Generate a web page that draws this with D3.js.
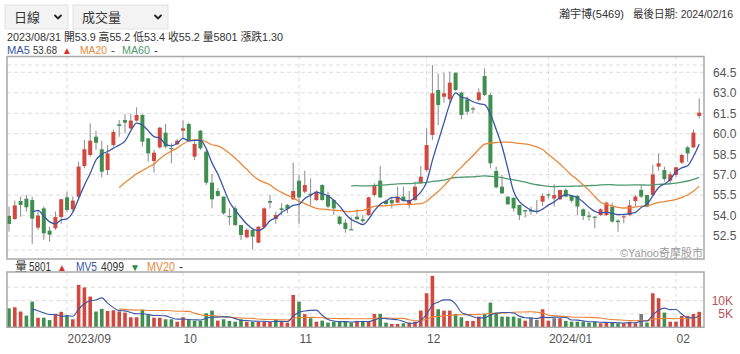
<!DOCTYPE html>
<html><head><meta charset="utf-8">
<script src="https://cdn.jsdelivr.net/npm/d3@7"></script>
<style>
body{margin:0;background:#fff;}
svg{display:block;font-family:"Liberation Sans","Noto Sans CJK TC",Arial,sans-serif;}
</style></head><body><svg id="c" width="740" height="354"></svg>
<script>
// ---------- data ----------
const opens = [53.97,53.75,55.07,55.24,55.14,53.12,54.53,52.90,53.07,53.90,
55.34,54.46,55.39,57.63,58.44,59.78,58.86,57.34,59.17,60.69,
61.00,60.39,60.96,61.37,59.66,58.00,59.00,60.08,58.95,59.22,
60.22,60.71,58.32,60.22,58.69,56.41,55.80,55.39,53.97,54.53,
53.31,52.41,52.95,52.02,53.14,55.07,53.75,54.53,54.78,55.19,
56.56,55.75,55.60,55.14,56.24,55.51,55.14,53.92,53.48,53.00,
53.92,53.73,54.04,55.51,56.56,55.07,55.14,54.95,55.39,54.78,
55.14,56.37,57.34,59.91,63.20,62.71,62.52,64.47,63.01,62.52,
61.86,62.47,64.23,62.84,57.27,56.12,55.39,55.31,54.78,54.40,
54.41,54.36,55.02,55.56,55.25,55.19,55.88,55.44,55.44,54.46,
54.00,53.92,54.04,54.04,54.66,53.63,53.90,54.04,55.07,55.88,
55.51,55.51,57.59,57.34,56.56,56.98,57.88,59.00,59.00,61.30];
const highs = [54.66,55.10,55.39,55.51,55.39,54.41,54.66,53.19,54.29,55.20,
55.75,55.39,57.95,59.54,60.76,60.22,59.49,59.17,60.32,61.00,
61.44,61.49,61.93,61.45,59.70,58.81,60.50,60.71,59.30,59.60,
60.96,60.81,59.54,60.27,58.81,57.05,56.00,55.39,54.53,54.70,
53.31,53.07,53.07,53.19,54.61,55.51,54.29,54.90,54.85,57.88,
57.02,57.29,56.73,55.85,56.30,55.75,55.19,53.97,53.73,53.92,
54.46,54.04,55.39,56.37,57.63,55.19,55.39,56.12,56.12,55.80,
56.49,57.63,60.39,65.03,64.42,64.47,64.55,64.47,63.08,62.71,
61.98,63.32,64.79,62.96,57.59,56.98,55.39,55.31,54.78,54.45,
54.65,55.14,55.63,55.63,56.32,55.88,56.00,55.51,55.51,54.53,
54.29,53.97,54.53,55.02,54.95,53.73,54.04,55.14,55.51,56.24,
55.51,57.71,58.56,57.59,57.22,57.59,58.51,59.10,60.32,62.59];
const lows = [52.82,53.68,53.92,54.29,51.92,52.95,52.21,52.09,52.95,53.40,
54.29,54.29,55.27,57.46,58.32,58.81,56.80,56.98,59.05,59.78,
60.03,60.32,60.88,59.05,57.95,57.15,58.90,58.93,57.83,59.17,
59.59,59.49,58.07,58.81,56.24,54.53,55.39,54.05,53.31,53.24,
52.21,52.34,51.53,51.97,53.07,54.53,53.39,54.05,54.17,55.14,
53.39,55.63,54.78,55.07,55.10,54.53,54.04,53.31,52.75,52.95,
53.68,53.44,53.97,55.39,55.27,54.78,54.53,54.90,55.02,54.53,
55.07,56.32,57.22,59.54,60.64,62.27,62.22,63.15,61.05,61.37,
61.49,62.35,62.76,57.46,56.00,55.58,54.78,54.29,53.68,53.87,
54.05,54.12,54.70,55.27,54.66,55.14,55.34,54.95,54.04,53.68,
53.63,53.07,53.97,53.97,53.48,52.82,53.44,53.97,54.70,55.27,
54.61,55.44,57.29,56.49,56.37,56.85,57.78,57.95,58.93,61.13];
const closes = [53.39,54.75,54.78,54.61,53.78,54.00,52.70,52.60,53.90,55.20,
54.41,55.10,57.59,58.86,59.49,59.34,57.22,58.56,60.13,60.57,
60.81,60.96,61.37,59.42,58.56,58.61,60.44,59.05,58.90,59.49,
60.39,59.54,59.25,58.93,56.41,55.19,55.44,54.17,53.88,53.31,
52.58,52.95,52.46,53.19,54.53,54.95,54.05,54.41,54.50,55.80,
55.34,56.24,55.50,55.75,55.14,54.66,54.53,53.39,53.02,52.97,
53.73,53.60,55.34,56.17,55.34,54.85,54.90,55.39,55.07,55.14,
56.12,56.85,59.17,62.96,62.10,62.96,63.74,63.20,61.37,61.61,
61.79,63.03,62.84,57.83,56.07,55.63,54.83,54.53,54.04,54.30,
54.30,54.30,55.44,55.50,55.50,55.88,55.39,55.09,54.66,53.97,
53.95,53.87,54.46,54.95,53.56,53.52,53.95,54.75,55.39,55.39,
54.66,57.02,57.83,56.68,57.02,57.54,58.44,58.56,60.08,61.54];
const volumes = [7100,7500,5900,4400,9600,3600,3600,2700,4794,5801,
4500,3000,15900,14900,11500,5900,6900,6100,6400,5900,
5500,3750,3750,6500,4600,3600,3600,3000,3000,2100,
3750,2750,2500,2500,5250,6250,2500,3000,2400,2100,
3000,2100,2100,2100,2100,2100,2750,2100,1750,12100,
9600,4900,3400,2100,2500,1750,2100,2100,2100,1750,
2400,2400,2100,5000,5000,1750,1250,1250,1500,1750,
2100,6250,12750,19250,6750,6250,6250,5000,3750,2400,
2400,4000,5000,9250,5500,4000,4000,4000,3400,2500,
3600,2750,6750,2500,3400,3400,2400,2100,2100,2100,
1750,2100,1500,1750,1750,1500,1500,2100,1500,5000,
1750,12750,10900,5500,2100,2100,4250,4250,5000,5800];
const monthLabels = ["2023/09","10","11","12","2024/01","02"];
const monthIndex = [10,30,50,72,93,115];
const priceTicks = [52.5,54,55.5,57,58.5,60,61.5,63,64.5];
const volTicks = [5000,10000];
const volTickLabels = ["5K","10K"];
const shownIndex = 9, shownDate = "2023/08/31";
const stockName = "瀚宇博(5469)", lastDate = "2024/02/16";

// ---------- helpers ----------
const N = closes.length;
function ma(arr, n){ return arr.map((v,i)=> i<n-1 ? null : d3.mean(arr.slice(i-n+1,i+1))); }
const ma5 = ma(closes,5), ma20 = ma(closes,20), ma60 = ma(closes,60);
const mv5 = ma(volumes,5), mv20 = ma(volumes,20);

const RED="#d2483f", GREEN="#3f8f50", GRAY="#7a7a7a";
const C_MA5="#3a56a5", C_MA20="#e8873a", C_MA60="#4f9a6e";

const svg = d3.select("#c");
const L=7, R=704, T1=56.5, B1=259, T2=272, B2=327.3;
const x = d3.scaleLinear().domain([0,N-1]).range([9,699.2]);
const y = d3.scaleLinear().domain([50.82,65.62]).range([B1,57]);
const yv = d3.scaleLinear().domain([0,20700]).range([B2,T2]);

// ---------- header ----------
function dropdown(x0,w,label){
  const g = svg.append("g");
  g.append("rect").attr("x",x0).attr("y",5).attr("width",w).attr("height",24)
    .attr("fill","#f3f3f3").attr("stroke","#e2e2e2");
  g.append("text").attr("x",x0+9).attr("y",22).attr("font-size",13).attr("fill","#333").text(label);
  const cx = x0+w-10;
  g.append("path").attr("d",`M${cx-3.5},${15} L${cx},${18.5} L${cx+3.5},${15}`)
    .attr("fill","none").attr("stroke","#222").attr("stroke-width",1.8);
}
dropdown(5,63,"日線");
dropdown(73,95,"成交量");

const f1 = d3.format(".1f"), f2 = d3.format(".2f");
const i0 = shownIndex;
function lt(xx,yy,txt,color,fs,w){
  const t = svg.append("text").attr("x",xx).attr("y",yy).attr("fill",color).attr("font-size",fs).text(txt);
  if(w) t.attr("textLength",w).attr("lengthAdjust","spacingAndGlyphs");
  return t;
}
lt(7,41,`${shownDate} 開${f1(opens[i0])} 高${f1(highs[i0])} 低${f1(lows[i0])} 收${f1(closes[i0])} 量${volumes[i0]} 漲跌${f2(closes[i0]-closes[i0-1])}`,"#333",11.5,276);

lt(7,54,"MA5",C_MA5,11.5,23); lt(33,54,f2(ma5[i0]),"#333",11.5,24); lt(62,53.5,"▲","#d9302a",10);
lt(80,54,"MA20",C_MA20,11.5,27); lt(111,54,"-","#333",11.5);
lt(122,54,"MA60",C_MA60,11.5,28); lt(154,54,"-","#333",11.5);

lt(559,18,stockName,"#333",11.5,65);
lt(633,18,`最後日期: ${lastDate}`,"#333",11,100);

// ---------- grids ----------
const grid = svg.append("g").attr("stroke","#dcdcdc").attr("stroke-dasharray","4,3").attr("stroke-width",1);
[...priceTicks.map(v=>y(v)), T1+8.5, B1-9].forEach(yy=>{
  grid.append("line").attr("x1",L).attr("x2",R).attr("y1",yy).attr("y2",yy);
});
volTicks.concat([15000]).forEach(v=>{
  grid.append("line").attr("x1",L).attr("x2",R).attr("y1",yv(v)).attr("y2",yv(v));
});
monthIndex.forEach(i=>{
  grid.append("line").attr("x1",x(i)).attr("x2",x(i)).attr("y1",T1).attr("y2",B1);
  grid.append("line").attr("x1",x(i)).attr("x2",x(i)).attr("y1",T2).attr("y2",B2);
});

// ---------- candles ----------
const idx = d3.range(N);
const cg = svg.append("g");
cg.selectAll("line").data(idx).join("line")
  .attr("x1",i=>x(i)).attr("x2",i=>x(i))
  .attr("y1",i=>y(highs[i])).attr("y2",i=>y(lows[i]))
  .attr("stroke","#8a8a8a").attr("stroke-width",1);
function candleColor(i){ return closes[i]>opens[i]?RED:(closes[i]<opens[i]?GREEN:GRAY); }
cg.selectAll("rect").data(idx).join("rect")
  .attr("x",i=>x(i)-2).attr("width",4)
  .attr("y",i=>y(Math.max(opens[i],closes[i])))
  .attr("height",i=>Math.max(1.2,Math.abs(y(opens[i])-y(closes[i]))))
  .attr("fill",candleColor);

// ---------- MA lines ----------
function drawLine(vals, sc, color, w){
  svg.append("path").datum(idx)
    .attr("d", d3.line().defined(i=>vals[i]!=null).x(i=>x(i)).y(i=>sc(vals[i])).curve(d3.curveMonotoneX))
    .attr("fill","none").attr("stroke",color).attr("stroke-width",w||1.3);
}
drawLine(ma60,y,C_MA60);
drawLine(ma20,y,C_MA20);
drawLine(ma5,y,C_MA5);

svg.append("text").attr("x",703).attr("y",257).attr("text-anchor","end").attr("font-size",11)
  .attr("fill","#9a9a9a").text("©Yahoo奇摩股市");

// ---------- price axis ----------
const ya = svg.append("g").attr("transform",`translate(${R+6},0)`)
  .call(d3.axisRight(y).tickValues(priceTicks).tickFormat(f1).tickSize(0).tickPadding(3));
ya.select(".domain").remove();
ya.selectAll("text").attr("font-size",12).attr("fill","#555").attr("font-family",null);

// ---------- volume ----------
function volColor(i){
  if(i===0) return closes[i]>=opens[i]?RED:GREEN;
  return closes[i]>closes[i-1]?RED:(closes[i]<closes[i-1]?GREEN:GRAY);
}
svg.append("g").selectAll("rect").data(idx).join("rect")
  .attr("x",i=>x(i)-1.8).attr("width",3.6)
  .attr("y",i=>yv(volumes[i])).attr("height",i=>B2-yv(volumes[i]))
  .attr("fill",volColor);
drawLine(mv20,yv,C_MA20,1.1);
drawLine(mv5,yv,C_MA5,1.1);

const va = svg.append("g").attr("transform",`translate(733,0)`)
  .call(d3.axisRight(yv).tickValues(volTicks).tickFormat((d,k)=>volTickLabels[k]).tickSize(0).tickPadding(0));
va.select(".domain").remove();
va.selectAll("text").attr("text-anchor","end").attr("font-size",12).attr("fill","#b5515a").attr("font-family",null);

lt(15,271,"量","#333",12); lt(29,271,String(volumes[i0]),"#333",12,22);
lt(57,270.5,"▲","#d9302a",10);
lt(76,271,"MV5",C_MA5,12,21); lt(101,271,String(Math.round(mv5[i0])),"#333",12,23);
lt(130,270.5,"▼","#2f8a47",10);
lt(147,271,"MV20",C_MA20,12,28); lt(179,271,"-","#333",12);

// ---------- frames ----------
svg.append("rect").attr("x",L).attr("y",T1).attr("width",R-L).attr("height",B1-T1)
  .attr("fill","none").attr("stroke","#a8a8a8").attr("stroke-width",1.5);
svg.append("rect").attr("x",L).attr("y",T2).attr("width",R-L).attr("height",B2-T2)
  .attr("fill","none").attr("stroke","#a8a8a8").attr("stroke-width",1.5);

// ---------- time axis ----------
const xa = svg.append("g").attr("transform",`translate(0,${B2})`)
  .call(d3.axisBottom(x).tickValues(monthIndex).tickFormat((d,k)=>monthLabels[k]).tickSize(0).tickPadding(7));
xa.select(".domain").remove();
xa.selectAll("text").attr("text-anchor","start").attr("font-size",12).attr("fill","#555").attr("font-family",null);
</script></body></html>
